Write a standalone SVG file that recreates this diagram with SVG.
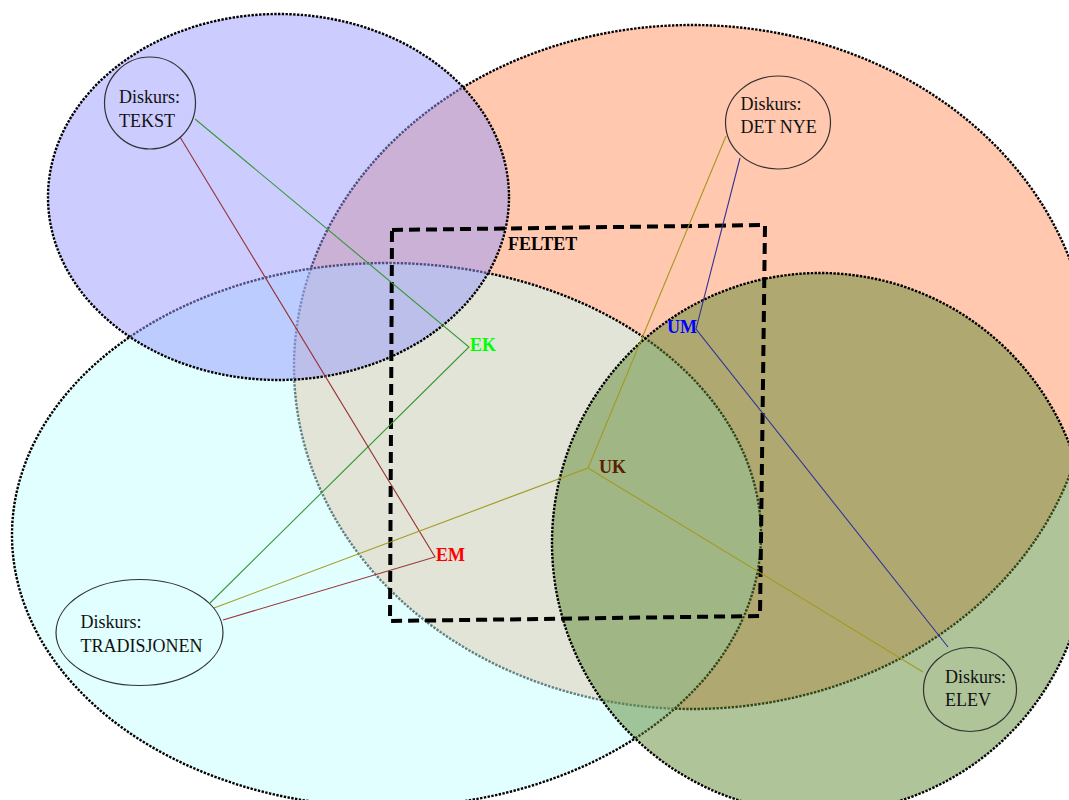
<svg xmlns="http://www.w3.org/2000/svg" width="1069" height="800" viewBox="0 0 1069 800">
  <style>
    .region { stroke: #000; stroke-width: 2.4; stroke-dasharray: 2.4 1.4; }
    .node { fill: none; stroke: #333; stroke-width: 1.2; }
    .ntext { font-family: "Liberation Serif", "Times New Roman", serif; font-size: 18px; fill: #111; }
    .lbl { font-family: "Liberation Serif", "Times New Roman", serif; font-size: 18px; font-weight: bold; }
    .conn { fill: none; stroke-width: 1.1; }
  </style>
  <rect width="1069" height="800" fill="#fff"/>
  <g id="regions">
    <ellipse id="region-detnye" class="region" cx="692" cy="367" rx="398" ry="342" fill="#ff9160" fill-opacity="0.5"/>
    <ellipse id="region-tradisjonen" class="region" cx="386.5" cy="535" rx="374.5" ry="272" fill="#c4ffff" fill-opacity="0.5"/>
    <ellipse id="region-tekst" class="region" cx="278.5" cy="197" rx="230.5" ry="183" fill="#9999ff" fill-opacity="0.5"/>
    <ellipse id="region-elev" class="region" cx="820" cy="543" rx="268" ry="270" fill="#5f8a33" fill-opacity="0.5"/>
  </g>
  <g id="feltet">
    <polygon points="392,230 765,225 760,616 390,621" fill="none" stroke="#000" stroke-width="4" stroke-dasharray="11 6" stroke-linejoin="round"/>
    <text class="lbl" x="508" y="250" fill="#000">FELTET</text>
  </g>
  <g id="connectors">
    <polyline class="conn" stroke="#339933" points="195,119 469,347 210,603"/>
    <polyline class="conn" stroke="#993333" points="180,137 435,557 223,620"/>
    <polyline class="conn" stroke="#a39a20" points="214,608 588,468 726,136"/>
    <line class="conn" stroke="#a39a20" x1="588" y1="468" x2="923" y2="672"/>
    <polyline class="conn" stroke="#333399" points="740,158 696,329 948,647"/>
  </g>
  <g id="node-tekst">
    <ellipse class="node" cx="150" cy="103" rx="45.5" ry="46"/>
    <text class="ntext" x="119" y="103">Diskurs:</text>
    <text class="ntext" x="119" y="126.5">TEKST</text>
  </g>
  <g id="node-detnye">
    <ellipse class="node" cx="778" cy="122.5" rx="52.5" ry="46.5"/>
    <text class="ntext" x="740.5" y="110">Diskurs:</text>
    <text class="ntext" x="740.5" y="133">DET NYE</text>
  </g>
  <g id="node-tradisjonen">
    <ellipse class="node" cx="139.5" cy="632.5" rx="83.5" ry="53"/>
    <text class="ntext" x="80.5" y="628">Diskurs:</text>
    <text class="ntext" x="80.5" y="651.5">TRADISJONEN</text>
  </g>
  <g id="node-elev">
    <ellipse class="node" cx="970" cy="689.5" rx="46.5" ry="42"/>
    <text class="ntext" x="945" y="683">Diskurs:</text>
    <text class="ntext" x="945" y="706">ELEV</text>
  </g>
  <g id="node-ek">
    <text class="lbl" x="470" y="351" fill="#00ff00">EK</text>
  </g>
  <g id="node-um">
    <text class="lbl" x="667" y="333" fill="#0000ff">UM</text>
  </g>
  <g id="node-uk">
    <text class="lbl" x="599" y="473" fill="#5c1f00">UK</text>
  </g>
  <g id="node-em">
    <text class="lbl" x="436" y="561" fill="#ff0000">EM</text>
  </g>
</svg>
